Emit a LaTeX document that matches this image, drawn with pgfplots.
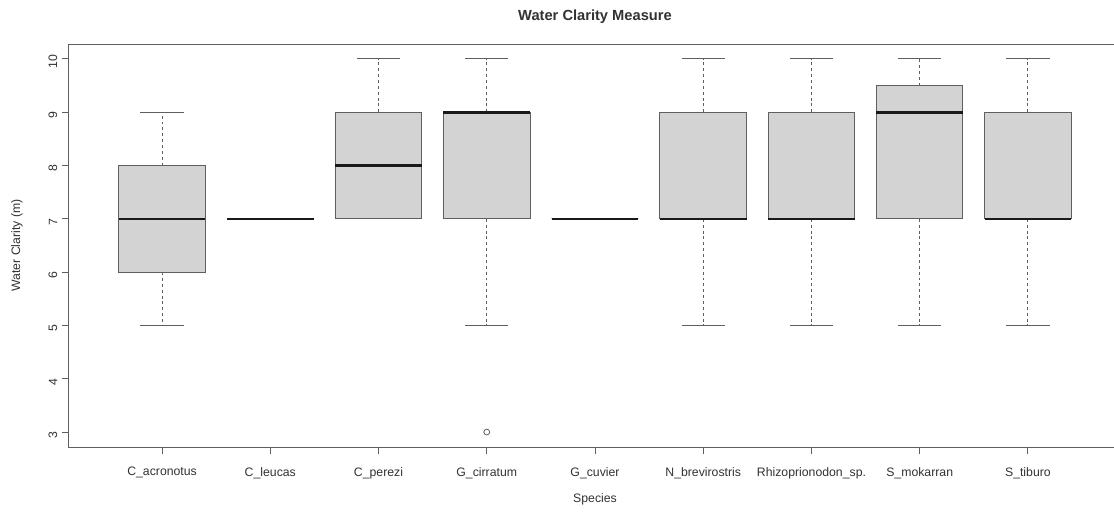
\documentclass[border=0pt]{standalone}
\usepackage{pgfplots}
\pgfplotsset{compat=1.18}
\usepgfplotslibrary{statistics}
\usepackage{fontspec}
\setmainfont{Liberation Sans}
\definecolor{boxfill}{RGB}{211,211,211}
\definecolor{lin}{RGB}{95,95,95}
\definecolor{txt}{RGB}{50,50,50}

\pgfplotsset{
  boxplot/draw/lower whisker/.code={%
    \draw[/pgfplots/boxplot/every whisker/.try, dash pattern=on 2.2pt off 2.2pt]
      (boxplot box cs:\pgfplotsboxplotvalue{lower quartile},0.5) --
      (boxplot box cs:\pgfplotsboxplotvalue{lower whisker},0.5);
    \draw[/pgfplots/boxplot/every whisker/.try]
      (boxplot whisker cs:\pgfplotsboxplotvalue{lower whisker},0) --
      (boxplot whisker cs:\pgfplotsboxplotvalue{lower whisker},1);
  },
  boxplot/draw/upper whisker/.code={%
    \draw[/pgfplots/boxplot/every whisker/.try, dash pattern=on 2.2pt off 2.2pt]
      (boxplot box cs:\pgfplotsboxplotvalue{upper quartile},0.5) --
      (boxplot box cs:\pgfplotsboxplotvalue{upper whisker},0.5);
    \draw[/pgfplots/boxplot/every whisker/.try]
      (boxplot whisker cs:\pgfplotsboxplotvalue{upper whisker},0) --
      (boxplot whisker cs:\pgfplotsboxplotvalue{upper whisker},1);
  },
  boxplot/draw/box/.code={%
    \draw[/pgfplots/boxplot/every box/.try]
      (boxplot box cs:\pgfplotsboxplotvalue{lower quartile},0) rectangle
      (boxplot box cs:\pgfplotsboxplotvalue{upper quartile},1);
  },
  boxplot/draw/median/.code={%
    \draw[/pgfplots/boxplot/every median/.try]
      (boxplot box cs:\pgfplotsboxplotvalue{median},0) --
      (boxplot box cs:\pgfplotsboxplotvalue{median},1);
  },
  rbox/.style={
    solid, draw=lin, line width=0.75pt,
    boxplot/draw direction=y,
    boxplot/box extend=0.8,
    boxplot/whisker extend=0.4,
    boxplot/every box/.style={fill=boxfill, draw=lin, line width=0.75pt},
    boxplot/every median/.style={draw=black!90, line width=1.9pt},
    boxplot/every whisker/.style={draw=lin, line width=0.75pt},
  },
}

\begin{document}
\begin{tikzpicture}
\path[use as bounding box] (-51.75pt,-48.75pt) rectangle (783.75pt,335.25pt);
\clip (-51.75pt,-48.75pt) rectangle (783.75pt,335.25pt);
\begin{axis}[
  at={(0pt,0pt)}, anchor=south west, scale only axis,
  width=789pt, height=302.25pt,
  xmin=0.14, xmax=9.86, ymin=2.72, ymax=10.28,
  xtick={1,2,3,4,5,6,7,8,9},
  xticklabels={C\_acronotus, C\_leucas, C\_perezi, G\_cirratum, G\_cuvier, N\_brevirostris, Rhizoprionodon\_sp., S\_mokarran, S\_tiburo},
  ytick={3,4,5,6,7,8,9,10},
  tick align=outside, xtick pos=bottom, ytick pos=left,
  major tick length=5.25pt,
  axis line style={draw=lin, line width=0.75pt},
  every tick/.style={draw=lin, line width=0.75pt},
  /pgf/number format/assume math mode=true,
  tick label style={font=\fontsize{9.2}{11}\selectfont, text=txt},
  xticklabel style={yshift=-6.5pt},
  yticklabel style={rotate=90, anchor=south, xshift=-2.25pt},
  xlabel={Species}, ylabel={Water Clarity (m)},
  label style={font=\fontsize{9.2}{11}\selectfont, text=txt},
  xlabel style={at={(axis description cs:0.5,-0.129)}, anchor=center},
  ylabel style={at={(axis description cs:-0.0494,0.5)}, anchor=center},
  title={Water Clarity Measure},
  title style={at={(axis description cs:0.5,1.047)}, anchor=center, font=\fontsize{11}{13}\selectfont\bfseries, text=txt},
]
\addplot[rbox, boxplot prepared={lower whisker=5, lower quartile=6, median=7, upper quartile=8, upper whisker=9, draw position=1}] coordinates {};
\addplot[rbox, boxplot prepared={lower whisker=7, lower quartile=7, median=7, upper quartile=7, upper whisker=7, draw position=2}] coordinates {};
\addplot[rbox, boxplot prepared={lower whisker=7, lower quartile=7, median=8, upper quartile=9, upper whisker=10, draw position=3}] coordinates {};
\addplot[rbox, mark=o, mark size=2.2pt, mark options={draw=lin, fill=none, solid, line width=0.6pt}, boxplot prepared={lower whisker=5, lower quartile=7, median=9, upper quartile=9, upper whisker=10, draw position=4}] table[row sep=\\, y index=0] {data\\ 3\\};
\addplot[rbox, boxplot prepared={lower whisker=7, lower quartile=7, median=7, upper quartile=7, upper whisker=7, draw position=5}] coordinates {};
\addplot[rbox, boxplot prepared={lower whisker=5, lower quartile=7, median=7, upper quartile=9, upper whisker=10, draw position=6}] coordinates {};
\addplot[rbox, boxplot prepared={lower whisker=5, lower quartile=7, median=7, upper quartile=9, upper whisker=10, draw position=7}] coordinates {};
\addplot[rbox, boxplot prepared={lower whisker=5, lower quartile=7, median=9, upper quartile=9.5, upper whisker=10, draw position=8}] coordinates {};
\addplot[rbox, boxplot prepared={lower whisker=5, lower quartile=7, median=7, upper quartile=9, upper whisker=10, draw position=9}] coordinates {};
\end{axis}
\end{tikzpicture}
\end{document}
